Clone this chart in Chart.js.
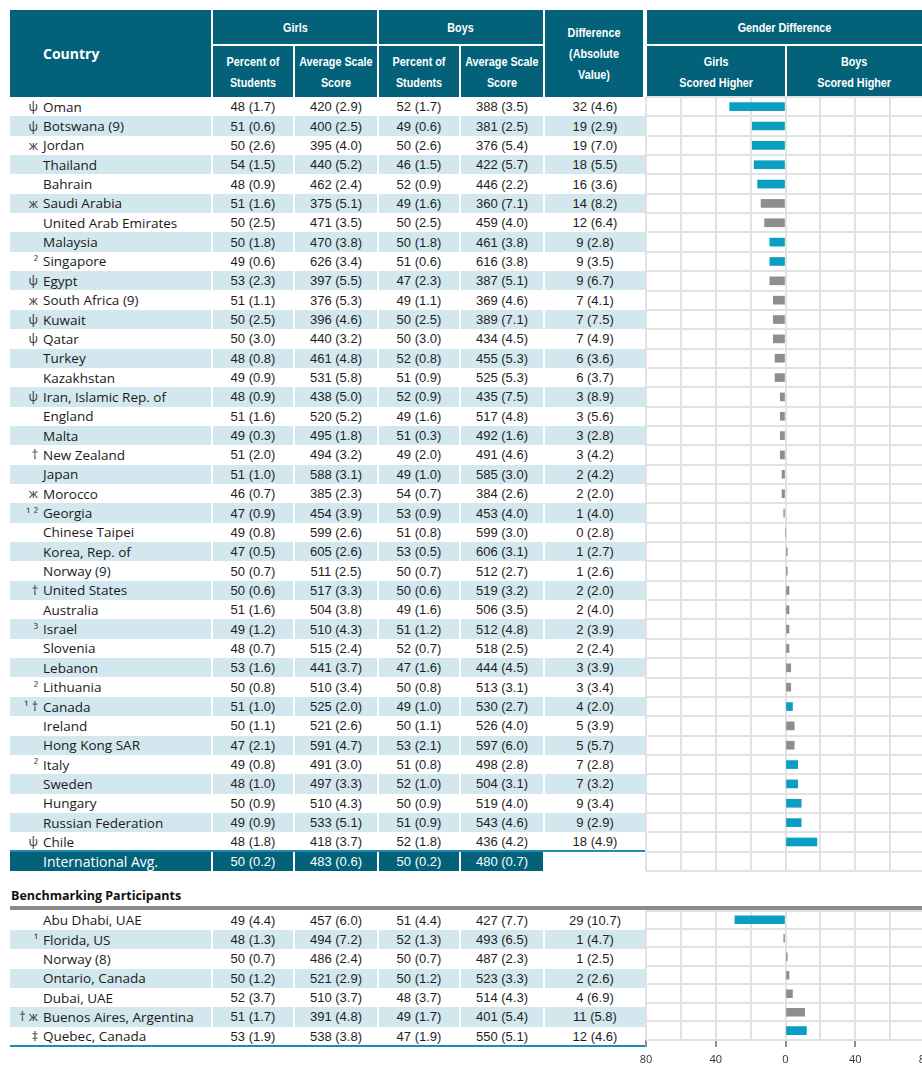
<!DOCTYPE html>
<html><head><meta charset="utf-8">
<script src="https://cdn.jsdelivr.net/npm/chart.js@4.4.1/dist/chart.umd.min.js"></script>
<style>
html,body{margin:0;padding:0;width:922px;height:1072px;overflow:hidden;background:#fff;}
#root{position:relative;width:922px;height:1072px;overflow:hidden;}
.hd{position:absolute;background:#03627a;color:#fff;display:flex;align-items:center;justify-content:center;text-align:center;font-family:"Liberation Sans",Arial,sans-serif;font-weight:bold;font-size:13.5px;line-height:21px;white-space:nowrap;}
.hd span.c{display:inline-block;transform:scaleX(0.8);}
.cell{position:absolute;display:flex;align-items:center;justify-content:center;font-family:"Liberation Sans",Arial,sans-serif;font-size:13px;color:#1e1e1e;white-space:nowrap;}
.shade{background:#d3e7ee;}
.avg{background:#03627a;color:#fff;}
.nm{position:absolute;font-family:"Open Sans",sans-serif;font-size:13.5px;color:#1a1a1a;white-space:nowrap;display:flex;align-items:center;}
.pf{position:absolute;font-family:"Open Sans",sans-serif;font-size:12.5px;color:#333;white-space:nowrap;display:flex;align-items:center;justify-content:flex-end;}
.line{position:absolute;}
canvas{position:absolute;}
</style>
</head><body><div id="root"></div>
<script>
// ---------- DATA ----------
const countries = ["Oman","Botswana (9)","Jordan","Thailand","Bahrain","Saudi Arabia","United Arab Emirates","Malaysia","Singapore","Egypt","South Africa (9)","Kuwait","Qatar","Turkey","Kazakhstan","Iran, Islamic Rep. of","England","Malta","New Zealand","Japan","Morocco","Georgia","Chinese Taipei","Korea, Rep. of","Norway (9)","United States","Australia","Israel","Slovenia","Lebanon","Lithuania","Canada","Ireland","Hong Kong SAR","Italy","Sweden","Hungary","Russian Federation","Chile"];
const prefixes = ["ψ","ψ","ж","","","ж","","","²","ψ","ж","ψ","ψ","","","ψ","","","†","","ж","¹ ²","","","","†","","³","","","²","¹ †","","","²","","","","ψ"];
const girlsPct = ["48 (1.7)","51 (0.6)","50 (2.6)","54 (1.5)","48 (0.9)","51 (1.6)","50 (2.5)","50 (1.8)","49 (0.6)","53 (2.3)","51 (1.1)","50 (2.5)","50 (3.0)","48 (0.8)","49 (0.9)","48 (0.9)","51 (1.6)","49 (0.3)","51 (2.0)","51 (1.0)","46 (0.7)","47 (0.9)","49 (0.8)","47 (0.5)","50 (0.7)","50 (0.6)","51 (1.6)","49 (1.2)","48 (0.7)","53 (1.6)","50 (0.8)","51 (1.0)","50 (1.1)","47 (2.1)","49 (0.8)","48 (1.0)","50 (0.9)","49 (0.9)","48 (1.8)"];
const girlsScore = ["420 (2.9)","400 (2.5)","395 (4.0)","440 (5.2)","462 (2.4)","375 (5.1)","471 (3.5)","470 (3.8)","626 (3.4)","397 (5.5)","376 (5.3)","396 (4.6)","440 (3.2)","461 (4.8)","531 (5.8)","438 (5.0)","520 (5.2)","495 (1.8)","494 (3.2)","588 (3.1)","385 (2.3)","454 (3.9)","599 (2.6)","605 (2.6)","511 (2.5)","517 (3.3)","504 (3.8)","510 (4.3)","515 (2.4)","441 (3.7)","510 (3.4)","525 (2.0)","521 (2.6)","591 (4.7)","491 (3.0)","497 (3.3)","510 (4.3)","533 (5.1)","418 (3.7)"];
const boysPct = ["52 (1.7)","49 (0.6)","50 (2.6)","46 (1.5)","52 (0.9)","49 (1.6)","50 (2.5)","50 (1.8)","51 (0.6)","47 (2.3)","49 (1.1)","50 (2.5)","50 (3.0)","52 (0.8)","51 (0.9)","52 (0.9)","49 (1.6)","51 (0.3)","49 (2.0)","49 (1.0)","54 (0.7)","53 (0.9)","51 (0.8)","53 (0.5)","50 (0.7)","50 (0.6)","49 (1.6)","51 (1.2)","52 (0.7)","47 (1.6)","50 (0.8)","49 (1.0)","50 (1.1)","53 (2.1)","51 (0.8)","52 (1.0)","50 (0.9)","51 (0.9)","52 (1.8)"];
const boysScore = ["388 (3.5)","381 (2.5)","376 (5.4)","422 (5.7)","446 (2.2)","360 (7.1)","459 (4.0)","461 (3.8)","616 (3.8)","387 (5.1)","369 (4.6)","389 (7.1)","434 (4.5)","455 (5.3)","525 (5.3)","435 (7.5)","517 (4.8)","492 (1.6)","491 (4.6)","585 (3.0)","384 (2.6)","453 (4.0)","599 (3.0)","606 (3.1)","512 (2.7)","519 (3.2)","506 (3.5)","512 (4.8)","518 (2.5)","444 (4.5)","513 (3.1)","530 (2.7)","526 (4.0)","597 (6.0)","498 (2.8)","504 (3.1)","519 (4.0)","543 (4.6)","436 (4.2)"];
const diffText = ["32 (4.6)","19 (2.9)","19 (7.0)","18 (5.5)","16 (3.6)","14 (8.2)","12 (6.4)","9 (2.8)","9 (3.5)","9 (6.7)","7 (4.1)","7 (7.5)","7 (4.9)","6 (3.6)","6 (3.7)","3 (8.9)","3 (5.6)","3 (2.8)","3 (4.2)","2 (4.2)","2 (2.0)","1 (4.0)","0 (2.8)","1 (2.7)","1 (2.6)","2 (2.0)","2 (4.0)","2 (3.9)","2 (2.4)","3 (3.9)","3 (3.4)","4 (2.0)","5 (3.9)","5 (5.7)","7 (2.8)","7 (3.2)","9 (3.4)","9 (2.9)","18 (4.9)"];
// signed gap: negative = girls scored higher, positive = boys scored higher
const gapValues = [-32,-19,-19,-18,-16,-14,-12,-9,-9,-9,-7,-7,-7,-6,-6,-3,-3,-3,-3,-2,-2,-1,0,1,1,2,2,2,2,3,3,4,5,5,7,7,9,9,18];
const significant = [1,1,1,1,1,0,0,1,1,0,0,0,0,0,0,0,0,0,0,0,0,0,0,0,0,0,0,0,0,0,0,1,0,0,1,1,1,1,1];
const avgLabel = "International Avg.";
const avgValues = ["50 (0.2)","483 (0.6)","50 (0.2)","480 (0.7)"];

const benchTitle = "Benchmarking Participants";
const benchNames = ["Abu Dhabi, UAE","Florida, US","Norway (8)","Ontario, Canada","Dubai, UAE","Buenos Aires, Argentina","Quebec, Canada"];
const benchPrefixes = ["","¹","","","","† ж","‡"];
const benchGirlsPct = ["49 (4.4)","48 (1.3)","50 (0.7)","50 (1.2)","52 (3.7)","51 (1.7)","53 (1.9)"];
const benchGirlsScore = ["457 (6.0)","494 (7.2)","486 (2.4)","521 (2.9)","510 (3.7)","391 (4.8)","538 (3.8)"];
const benchBoysPct = ["51 (4.4)","52 (1.3)","50 (0.7)","50 (1.2)","48 (3.7)","49 (1.7)","47 (1.9)"];
const benchBoysScore = ["427 (7.7)","493 (6.5)","487 (2.3)","523 (3.3)","514 (4.3)","401 (5.4)","550 (5.1)"];
const benchDiffText = ["29 (10.7)","1 (4.7)","1 (2.5)","2 (2.6)","4 (6.9)","11 (5.8)","12 (4.6)"];
const benchGap = [-29,-1,1,2,4,11,12];
const benchSignificant = [1,0,0,0,0,0,1];

const axisTicks = [-80,-40,0,40,80];

// ---------- LAYOUT ----------
const root = document.getElementById('root');
const TEAL = '#0a9ec1', GRAY = '#8e8e8e';
const RH = 19.35, TOP1 = 97, TOP2 = 910.5;
const cols = [[10,211],[213,293],[295,377],[379,459],[461,543],[545,645]];

function div(cls, l, t, w, h, html, style) {
  const d = document.createElement('div');
  d.className = cls;
  d.style.left = l + 'px'; d.style.top = t + 'px';
  d.style.width = w + 'px'; d.style.height = h + 'px';
  if (html !== undefined) d.innerHTML = html;
  if (style) Object.assign(d.style, style);
  root.appendChild(d);
  return d;
}
function hd(l, t, w, h, text) { return div('hd', l, t, w, h, '<span class="c">' + text + '</span>'); }

// header
div('hd', 10, 10, 201, 87, 'Country', {justifyContent:'flex-start', paddingLeft:'33px', boxSizing:'border-box', fontFamily:'"Open Sans",sans-serif', fontSize:'14px'});
hd(213, 10, 164, 34, 'Girls');
hd(379, 10, 164, 34, 'Boys');
hd(545, 10, 98, 87, 'Difference<br>(Absolute<br>Value)');
hd(647, 10, 275, 34, 'Gender Difference');
hd(213, 46, 80, 51, 'Percent of<br>Students');
hd(295, 46, 82, 51, 'Average Scale<br>Score');
hd(379, 46, 80, 51, 'Percent of<br>Students');
hd(461, 46, 82, 51, 'Average Scale<br>Score');
hd(647, 46, 138, 51, 'Girls<br>Scored Higher');
hd(787, 46, 135, 51, 'Boys<br>Scored Higher');

function tableRow(top, shaded, prefix, name, vals) {
  if (shaded) cols.forEach(c => div('cell shade', c[0], top, c[1]-c[0], RH));
  if (prefix) div('pf', 0, top, 38, RH, prefix);
  div('nm', 43, top, 168, RH, name);
  vals.forEach((v, k) => div('cell', cols[k+1][0], top, cols[k+1][1]-cols[k+1][0], RH, v));
}

countries.forEach((c, i) => {
  tableRow(TOP1 + i*RH, i % 2 === 1, prefixes[i], c, [girlsPct[i], girlsScore[i], boysPct[i], boysScore[i], diffText[i]]);
});
// teal rule above the international average
div('line', 10, TOP1 + 39*RH - 1.5, 635, 2, undefined, {background:'#1a8db0'});
const avgTop = TOP1 + 39*RH;
for (let k = 0; k < 5; k++) div('cell avg', cols[k][0], avgTop, cols[k][1]-cols[k][0], RH, k === 0 ? '' : avgValues[k-1]);
div('nm', 43, avgTop, 168, RH, avgLabel, {color:'#fff', fontSize:'14px'});

// benchmarking title and separator
div('nm', 11, 885, 300, 20, benchTitle, {fontWeight:'bold', fontSize:'12.5px', color:'#111', fontFamily:'"Open Sans",sans-serif'});
div('line', 10, 906, 912, 4, undefined, {background:'#8a8a8a'});

benchNames.forEach((c, i) => {
  tableRow(TOP2 + i*RH, i % 2 === 1, benchPrefixes[i], c, [benchGirlsPct[i], benchGirlsScore[i], benchBoysPct[i], benchBoysScore[i], benchDiffText[i]]);
});
div('line', 10, TOP2 + 7*RH - 1, 635, 2, undefined, {background:'#1a8db0'});

// ---------- CHARTS ----------
function makeCanvas(l, t, w, h) {
  const cv = document.createElement('canvas');
  cv.width = w; cv.height = h;
  cv.style.left = l + 'px'; cv.style.top = t + 'px';
  cv.style.width = w + 'px'; cv.style.height = h + 'px';
  root.appendChild(cv);
  return cv;
}
const GRID = '#e2e2e2';
function chartCfg(labels, values, sig, showAxis, pad) {
  return {
    type: 'bar',
    data: { labels: labels, datasets: [{ data: values, backgroundColor: values.map((v, i) => sig[i] ? TEAL : GRAY), barThickness: 8, borderWidth: 0 }] },
    options: {
      indexAxis: 'y', responsive: false, animation: false, devicePixelRatio: 1,
      layout: { padding: pad },
      plugins: { legend: { display: false }, tooltip: { enabled: false } },
      scales: {
        x: {
          type: 'linear', min: -80, max: 80,
          border: { display: false },
          grid: {
            color: GRID, lineWidth: 2, drawTicks: showAxis, tickLength: 7,
            tickColor: ctx => (ctx.tick && axisTicks.includes(ctx.tick.value)) ? '#6a6a6a' : 'rgba(0,0,0,0)',
            tickWidth: 1.5
          },
          ticks: {
            display: showAxis, stepSize: 20, autoSkip: false, maxRotation: 0, padding: 6,
            color: '#333', font: { family: '"Open Sans", sans-serif', size: 11 },
            callback: v => axisTicks.includes(v) ? String(Math.abs(v)) : ''
          }
        },
        y: {
          type: 'category', offset: true,
          border: { display: false },
          grid: { color: GRID, lineWidth: 2, drawTicks: false, offset: true },
          ticks: { display: false }
        }
      }
    }
  };
}
const cv1 = makeCanvas(626, 95, 320, 778);
new Chart(cv1, chartCfg(countries.concat([avgLabel]), gapValues.concat([null]), significant.concat([0]), false, {left:20, right:21, top:2, bottom:2}));
const cv2 = makeCanvas(626, 908, 320, 170);
new Chart(cv2, chartCfg(benchNames, benchGap, benchSignificant, true, {left:20, right:21, top:2.5, bottom:5.85}));
</script>
</body></html>
